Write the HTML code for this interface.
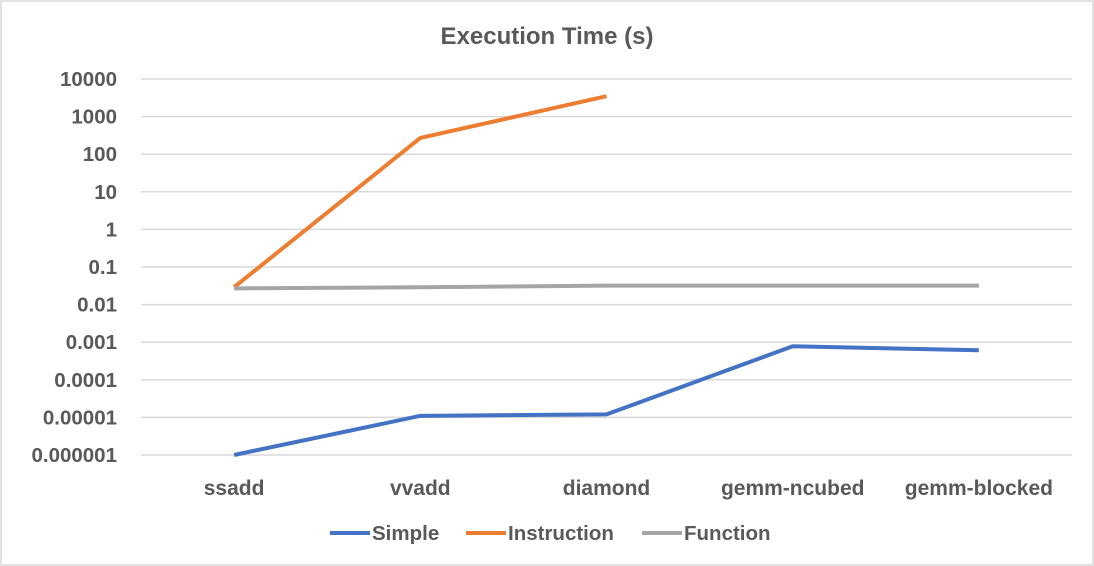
<!DOCTYPE html>
<html><head><meta charset="utf-8"><style>
body{margin:0;background:#fff;}
svg{display:block;font-family:"Liberation Sans",sans-serif;}
</style></head><body>
<svg id="chart" width="1094" height="566" viewBox="0 0 1094 566">
<rect x="1" y="1" width="1092" height="564" fill="#fff" stroke="#d9d9d9" stroke-width="1.5"/>
<text x="547" y="44" text-anchor="middle" font-size="24" font-weight="bold" fill="#595959">Execution Time (s)</text>
<g id="grid"></g><g id="ylabels"></g><g id="xlabels"></g><g id="series"></g>
<g id="legend"></g>
</svg>
<script>
const categories=["ssadd","vvadd","diamond","gemm-ncubed","gemm-blocked"];
const simple=[0.000001,0.000011,0.000012,0.00078,0.00061];
const instruction=[0.029,270,3500,null,null];
const func=[0.027,0.029,0.032,0.032,0.032];
const yTicks=[10000,1000,100,10,1,0.1,0.01,0.001,0.0001,0.00001,0.000001];
const yTickLabels=["10000","1000","100","10","1","0.1","0.01","0.001","0.0001","0.00001","0.000001"];
const seriesNames=["Simple","Instruction","Function"];
const colors=["#4472c4","#ed7d31","#a5a5a5"];
const NS="http://www.w3.org/2000/svg";
const L=141,R=1072,T=79,B=455;
const y=v=>T+(4-Math.log10(v))/10*(B-T);
const x=i=>L+(i+0.5)*(R-L)/categories.length;
function mk(tag,attrs,parent){const e=document.createElementNS(NS,tag);for(const k in attrs)e.setAttribute(k,attrs[k]);parent.appendChild(e);return e;}
const g=document.getElementById('grid'),yl=document.getElementById('ylabels'),xl=document.getElementById('xlabels'),s=document.getElementById('series'),lg=document.getElementById('legend');
yTicks.forEach((t,i)=>{
 const ln=mk('line',{x1:L,x2:R,y1:y(t),y2:y(t),stroke:'#d9d9d9','stroke-width':1.5},g);
 
 
 const tx=mk('text',{x:117,y:y(t)+7,'text-anchor':'end','font-size':20.5,'font-weight':'bold',fill:'#595959'},yl);
 tx.textContent=yTickLabels[i];
 
 
});
categories.forEach((c,i)=>{
 const tx=mk('text',{x:x(i),y:495,'text-anchor':'middle','font-size':21,'font-weight':'bold',fill:'#595959'},xl);
 tx.textContent=c;
 
 
});
[simple,instruction,func].forEach((d,si)=>{
 const pts=[];d.forEach((v,i)=>{if(v!=null)pts.push(x(i)+','+y(v));});
 const p=mk('polyline',{points:pts.join(' '),fill:'none',stroke:colors[si],'stroke-width':4,'stroke-linejoin':'round'},s);
 
 
});
const lx=[330,466,642];
seriesNames.forEach((n,i)=>{
 const ln=mk('line',{x1:lx[i],x2:lx[i]+40,y1:533,y2:533,stroke:colors[i],'stroke-width':4},lg);
 
 
 const tx=mk('text',{x:lx[i]+42,y:540,'font-size':20.5,'font-weight':'bold',fill:'#595959'},lg);
 tx.textContent=n;
 
 
});
</script>
</body></html>
